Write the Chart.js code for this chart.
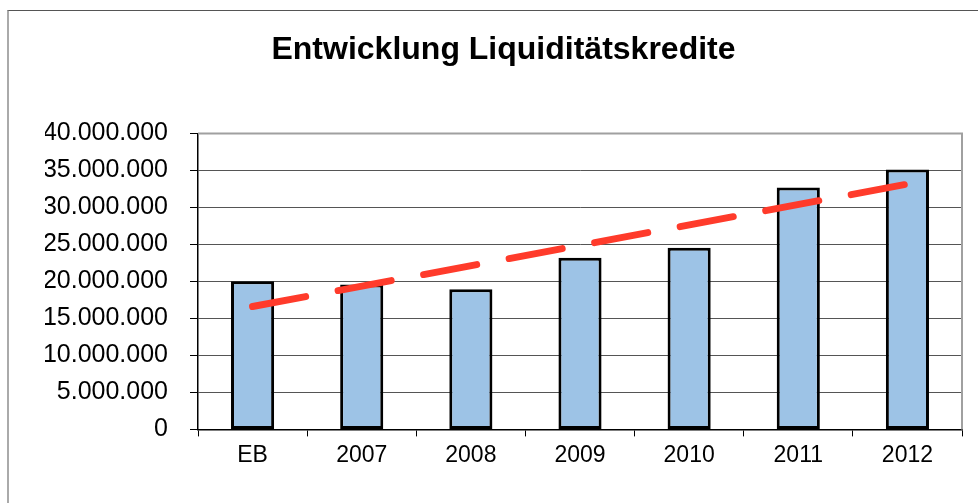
<!DOCTYPE html>
<html lang="de">
<head>
<meta charset="utf-8">
<title>Entwicklung Liquiditätskredite</title>
<script src="https://cdn.jsdelivr.net/npm/chart.js@4.4.1/dist/chart.umd.min.js"></script>
<style>
  html, body { margin: 0; padding: 0; background: #fff; overflow: hidden; }
  #wrap { position: relative; width: 978px; height: 503px; }
  #frame { position: absolute; left: 7px; top: 10px; width: 1100px; height: 600px;
           border-top: 1px solid #555; border-left: 2px solid #aaa; box-sizing: border-box; }
  canvas { position: absolute; left: 0; top: 0; }
</style>
</head>
<body>
<div id="wrap">
  <div id="frame"></div>
  <canvas id="chart" width="978" height="503"></canvas>
</div>
<script>
// Data
const categories = ['EB', '2007', '2008', '2009', '2010', '2011', '2012'];
const credits = [20030000, 19570000, 18940000, 23190000, 24540000, 32680000, 35120000];
// trend line: only its two ends
const trend = [16600000, null, null, null, null, null, 33150000];
const yTicks = [0, 5000000, 10000000, 15000000, 20000000, 25000000, 30000000, 35000000, 40000000];

const FONT = '"Liberation Sans", Arial, Helvetica, sans-serif';

function fmtDE(v) {
  return String(v).replace(/\B(?=(\d{3})+(?!\d))/g, '.');
}

// Grey frame on the top and right of the plot area
const plotFrame = {
  id: 'plotFrame',
  beforeDatasetsDraw(chart) {
    const { ctx, chartArea: a } = chart;
    ctx.save();
    ctx.strokeStyle = '#a0a0a0';
    ctx.lineWidth = 2;
    ctx.beginPath();
    ctx.moveTo(a.left, a.top);
    ctx.lineTo(a.right, a.top);
    ctx.lineTo(a.right, a.bottom);
    ctx.stroke();
    ctx.restore();
  }
};

const ctx = document.getElementById('chart').getContext('2d');
new Chart(ctx, {
  type: 'bar',
  data: {
    labels: categories,
    datasets: [
      {
        type: 'line',
        label: 'Trend',
        data: trend,
        spanGaps: true,
        borderColor: '#ff3b2b',
        borderWidth: 7,
        borderDash: [54, 33],
        borderCapStyle: 'round',
        pointRadius: 0,
        fill: false,
        order: 0
      },
      {
        label: 'Liquiditätskredite',
        data: credits,
        backgroundColor: '#9dc3e6',
        borderColor: '#000',
        borderWidth: 3,
        borderSkipped: false,
        barPercentage: 0.395,
        categoryPercentage: 1,
        order: 1
      }
    ]
  },
  options: {
    responsive: false,
    animation: false,
    layout: { padding: { left: 45, right: 16, top: 10, bottom: 29 } },
    plugins: {
      legend: { display: false },
      tooltip: { enabled: false },
      title: {
        display: true,
        text: 'Entwicklung Liquiditätskredite',
        color: '#000',
        font: { family: FONT, size: 32, weight: 'bold' },
        padding: { top: 21, bottom: 64 }
      }
    },
    scales: {
      x: {
        offset: true,
        grid: { offset: true, drawOnChartArea: false, tickLength: 7, tickColor: '#000', lineWidth: 1 },
        border: { color: '#000', width: 1.5 },
        ticks: { color: '#000', font: { family: FONT, size: 23 }, padding: 5, maxRotation: 0 }
      },
      y: {
        min: 0,
        max: 40000000,
        afterFit(scale) { scale.width = 153; },
        afterBuildTicks(scale) { scale.ticks = yTicks.map(v => ({ value: v })); },
        grid: {
          color: c => (c.tick && c.tick.value === 40000000 ? 'rgba(0,0,0,0)' : '#555'),
          lineWidth: 1,
          tickLength: 8,
          tickColor: '#000'
        },
        border: { color: '#000', width: 1.5 },
        ticks: {
          color: '#000',
          font: { family: FONT, size: 25 },
          padding: 22,
          callback: v => fmtDE(v)
        }
      }
    }
  },
  plugins: [plotFrame]
});
</script>
</body>
</html>
